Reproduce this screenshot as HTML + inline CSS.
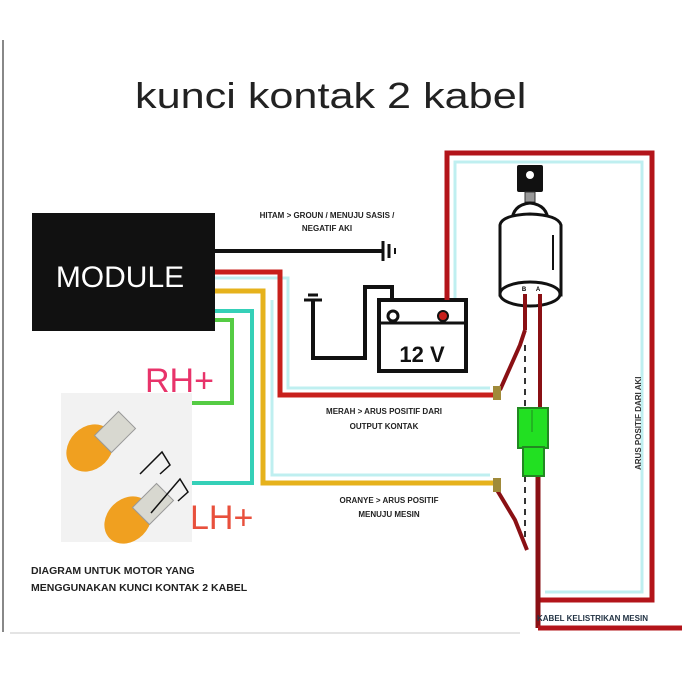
<!DOCTYPE html>
<html><head><style>
html,body{margin:0;padding:0;background:#fff;}
svg{display:block;}
text{font-family:"Liberation Sans",sans-serif;}
</style></head><body>
<svg width="700" height="700" viewBox="0 0 700 700" xmlns="http://www.w3.org/2000/svg">
<rect width="700" height="700" fill="#fff"/>
<line x1="3" y1="40" x2="3" y2="632" stroke="#888" stroke-width="2"/>
<line x1="10" y1="633" x2="520" y2="633" stroke="#e4e4e4" stroke-width="2"/>
<text transform="translate(135,108) scale(1.2,1)" x="0" y="0" font-size="36" fill="#222">kunci kontak 2 kabel</text>

<!-- module -->
<rect x="32" y="213" width="183" height="118" fill="#111"/>
<text x="120" y="287" font-size="30" fill="#fff" text-anchor="middle">MODULE</text>

<!-- black ground wire -->
<line x1="215" y1="251" x2="382" y2="251" stroke="#111" stroke-width="4"/>
<line x1="383" y1="241" x2="383" y2="261" stroke="#111" stroke-width="3"/>
<line x1="389" y1="244" x2="389" y2="258" stroke="#111" stroke-width="3"/>
<line x1="395" y1="248" x2="395" y2="254" stroke="#111" stroke-width="2"/>
<text x="327" y="218" font-size="8" font-weight="bold" fill="#222" text-anchor="middle">HITAM &gt; GROUN / MENUJU SASIS /</text>
<text x="327" y="231" font-size="8" font-weight="bold" fill="#222" text-anchor="middle">NEGATIF AKI</text>

<!-- cyan halo outlines -->
<polyline points="215,278 288,278 288,388 490,388" fill="none" stroke="#bfeff0" stroke-width="3"/>
<polyline points="455,300 455,162 642,162 642,592 545,592" fill="none" stroke="#bfeff0" stroke-width="3"/>
<polyline points="272,300 272,475 490,475" fill="none" stroke="#bfeff0" stroke-width="3"/>

<!-- red wire module -> key output -->
<polyline points="215,272 280,272 280,395 493,395" fill="none" stroke="#c8201c" stroke-width="5"/>
<!-- yellow wire -->
<polyline points="215,291 263,291 263,483 493,483" fill="none" stroke="#e6b21c" stroke-width="5"/>
<!-- cyan wire -->
<polyline points="215,311 252,311 252,483 190,483" fill="none" stroke="#35d0b8" stroke-width="4"/>
<!-- green wire -->
<polyline points="215,320 232,320 232,403 141,403" fill="none" stroke="#55cc44" stroke-width="4"/>

<!-- battery -->
<polyline points="392,300 392,287 365,287 365,358 313,358 313,300" fill="none" stroke="#111" stroke-width="4"/>
<line x1="304" y1="300" x2="322" y2="300" stroke="#111" stroke-width="3"/>
<line x1="308" y1="295" x2="318" y2="295" stroke="#111" stroke-width="3"/>
<rect x="379" y="300" width="87" height="71" fill="#fff" stroke="#111" stroke-width="4"/>
<line x1="379" y1="323" x2="466" y2="323" stroke="#111" stroke-width="3"/>
<circle cx="393" cy="316" r="5" fill="#fff" stroke="#111" stroke-width="3"/>
<circle cx="443" cy="316" r="5" fill="#c8201c" stroke="#111" stroke-width="2"/>
<text x="422" y="362" font-size="22" font-weight="bold" fill="#111" text-anchor="middle">12 V</text>

<!-- big red loop -->
<polyline points="447,300 447,153 652,153 652,600 538,600" fill="none" stroke="#b3141a" stroke-width="5"/>
<line x1="538" y1="476" x2="538" y2="628" stroke="#8a1014" stroke-width="5"/>
<line x1="538" y1="628" x2="682" y2="628" stroke="#b3141a" stroke-width="5"/>
<text x="537" y="621" font-size="8" font-weight="bold" fill="#234" >KABEL KELISTRIKAN MESIN</text>
<text transform="translate(641,470) rotate(-90)" font-size="8" font-weight="bold" fill="#333">ARUS POSITIF DARI AKI</text>

<!-- ignition key -->
<rect x="517" y="165" width="26" height="27" rx="2" fill="#111"/>
<circle cx="530" cy="175" r="4" fill="#fff"/>
<rect x="525" y="192" width="10" height="10" fill="#999" stroke="#333"/>
<path d="M512,222 Q512,205 530,203 Q548,205 548,222 Z" fill="#fff" stroke="#111" stroke-width="3"/>
<path d="M500,225 Q502,215 530,214 Q558,215 561,225 L561,295 L500,295 Z" fill="#fff" stroke="#111" stroke-width="3"/>
<line x1="553" y1="235" x2="553" y2="270" stroke="#111" stroke-width="2"/>
<ellipse cx="530" cy="294" rx="30" ry="12" fill="#fff" stroke="#111" stroke-width="3"/>
<text x="524" y="291" font-size="6" font-weight="bold" text-anchor="middle">B</text>
<text x="538" y="291" font-size="6" font-weight="bold" text-anchor="middle">A</text>
<line x1="525" y1="294" x2="525" y2="330" stroke="#8a1014" stroke-width="4"/>
<line x1="540" y1="294" x2="540" y2="408" stroke="#8a1014" stroke-width="4"/>
<polyline points="525,330 520,345 500,390" fill="none" stroke="#8a1014" stroke-width="4"/>
<line x1="525" y1="345" x2="525" y2="408" stroke="#333" stroke-width="2" stroke-dasharray="6,5"/>
<line x1="525" y1="476" x2="525" y2="540" stroke="#333" stroke-width="2" stroke-dasharray="6,5"/>
<polyline points="497,490 515,520 527,550" fill="none" stroke="#8a1014" stroke-width="4"/>
<rect x="493" y="386" width="8" height="14" fill="#a08a3a"/>
<rect x="493" y="478" width="8" height="14" fill="#a08a3a"/>
<!-- green connector -->
<rect x="518" y="408" width="30" height="40" fill="#22e022" stroke="#228822" stroke-width="2"/>
<rect x="523" y="447" width="21" height="29" fill="#22e022" stroke="#228822" stroke-width="2"/>
<line x1="532" y1="410" x2="532" y2="432" stroke="#228822" stroke-width="1"/>

<text x="384" y="414" font-size="8" font-weight="bold" fill="#222" text-anchor="middle">MERAH &gt;  ARUS POSITIF DARI</text>
<text x="384" y="429" font-size="8" font-weight="bold" fill="#222" text-anchor="middle">OUTPUT KONTAK</text>
<text x="389" y="503" font-size="8" font-weight="bold" fill="#222" text-anchor="middle">ORANYE &gt; ARUS POSITIF</text>
<text x="389" y="517" font-size="8" font-weight="bold" fill="#222" text-anchor="middle">MENUJU MESIN</text>

<!-- bulbs -->
<rect x="61" y="393" width="131" height="149" fill="#f2f2f2"/>
<g>
<ellipse cx="90" cy="448" rx="26" ry="21" fill="#f0a020" transform="rotate(-45 90 448)"/>
<rect x="103" y="415" width="24" height="34" fill="#d8d8d0" stroke="#999" transform="rotate(45 115 432)"/>
<ellipse cx="128" cy="520" rx="26" ry="21" fill="#f0a020" transform="rotate(-45 128 520)"/>
<rect x="141" y="487" width="24" height="34" fill="#d8d8d0" stroke="#999" transform="rotate(45 153 504)"/>
</g>
<polyline points="140,474 162,452 170,465 160,474" fill="none" stroke="#111" stroke-width="1.5"/>
<polyline points="151,513 180,479 188,492 178,501" fill="none" stroke="#111" stroke-width="1.5"/>

<text x="145" y="392" font-size="34" fill="#e8336a">RH+</text>
<text x="190" y="529" font-size="34" fill="#e8503c">LH+</text>

<text x="31" y="574" font-size="10.5" font-weight="bold" fill="#222">DIAGRAM UNTUK MOTOR YANG</text>
<text x="31" y="591" font-size="10.5" font-weight="bold" fill="#222">MENGGUNAKAN KUNCI KONTAK 2 KABEL</text>
</svg>
</body></html>
